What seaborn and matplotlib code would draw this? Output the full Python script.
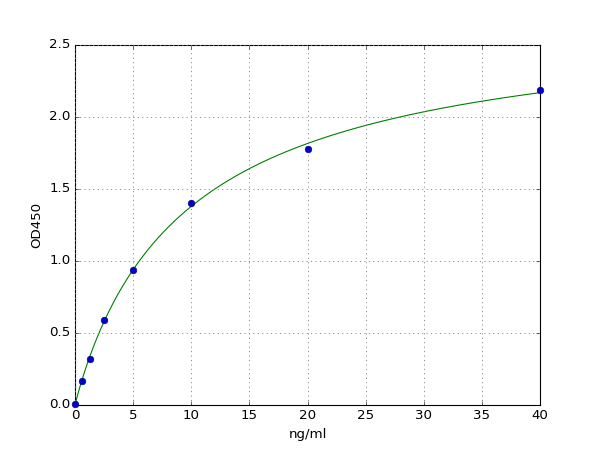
import numpy as np
import pandas as pd
import seaborn as sns
import matplotlib
matplotlib.use("Agg")
import matplotlib.pyplot as plt

conc = [0, 0.625, 1.25, 2.5, 5, 10, 20, 40]
od450 = [0.01, 0.17, 0.32, 0.59, 0.935, 1.405, 1.78, 2.185]

std = pd.DataFrame({"ng/ml": conc, "OD450": od450})

# 4-parameter logistic fit to the standards (grid search over b, c; linear for a, d)
x = np.array(conc, dtype=float)
y = np.array(od450, dtype=float)
best = None
for b in np.linspace(0.5, 2.0, 151):
    for c in np.logspace(0, 2.5, 251):
        f = 1.0 / (1.0 + (x / c) ** b)
        A = np.column_stack([f, 1 - f])
        coef, *_ = np.linalg.lstsq(A, y, rcond=None)
        err = np.sum((A @ coef - y) ** 2)
        if best is None or err < best[0]:
            best = (err, b, c, coef)
_, b, c, (a, d) = best
xs = np.linspace(0, 40, 400)
fit = pd.DataFrame({"ng/ml": xs, "OD450": d + (a - d) / (1 + (xs / c) ** b)})

plt.style.use("classic")
fig = plt.figure(figsize=(7.5, 5.625), dpi=80, facecolor="white")
ax = fig.add_axes([0.125, 0.1, 0.775, 0.8])

sns.lineplot(data=fit, x="ng/ml", y="OD450", color="green", lw=1, ax=ax)
sns.scatterplot(data=std, x="ng/ml", y="OD450", color="#0000cc", edgecolor="#000080",
                s=36, linewidth=0.5, zorder=3, clip_on=False, ax=ax)

ax.set_xlim(0, 40)
ax.set_ylim(0, 2.5)
ax.set_xticks(range(0, 41, 5))
ax.set_yticks(np.arange(0, 2.51, 0.5))
ax.grid(True, color="gray", linestyle=":", linewidth=0.8)
ax.set_xlabel("ng/ml")
ax.set_ylabel("OD450")

fig.savefig("out.png", dpi=80, facecolor="white")
